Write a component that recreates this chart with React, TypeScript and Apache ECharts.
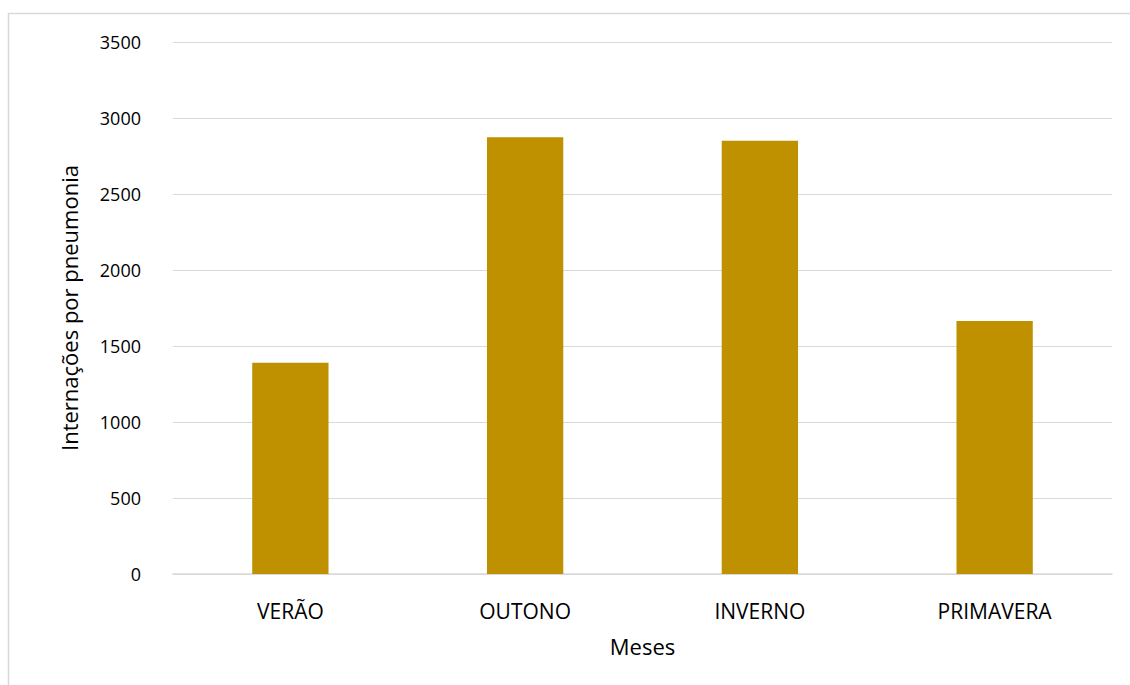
import React, { useEffect, useRef } from "react";
import * as echarts from "echarts";

const categories = ["VERÃO", "OUTONO", "INVERNO", "PRIMAVERA"];
const values = [1390, 2873, 2851, 1664];
const yTicks = [0, 500, 1000, 1500, 2000, 2500, 3000, 3500];

export default function App() {
  const ref = useRef<HTMLDivElement>(null);
  useEffect(() => {
    if (!ref.current) return;
    const chart = echarts.init(ref.current, null, { renderer: "svg" });
    const font = "'Open Sans', sans-serif";
    chart.setOption({
      animation: false,
      backgroundColor: "#ffffff",
      textStyle: { fontFamily: font },
      graphic: [
        {
          type: "rect",
          shape: { x: 8.5, y: 13.5, width: 1200, height: 800 },
          style: { fill: "none", stroke: "#d9d9d9", lineWidth: 1.5 },
          silent: true,
        },
      ],
      grid: { left: 173, right: 18, top: 42, bottom: 111, containLabel: false },
      xAxis: {
        type: "category",
        data: categories,
        name: "Meses",
        nameLocation: "middle",
        nameGap: 61,
        nameTextStyle: { fontSize: 22, color: "#000", fontFamily: font },
        axisLine: { lineStyle: { color: "#d9d9d9", width: 1.5 } },
        axisTick: { show: false },
        axisLabel: { fontSize: 21, color: "#000", margin: 26, fontFamily: font },
      },
      yAxis: {
        type: "value",
        min: yTicks[0],
        max: yTicks[yTicks.length - 1],
        interval: 500,
        name: "Internações por pneumonia",
        nameLocation: "middle",
        nameGap: 93,
        nameTextStyle: { fontSize: 22, color: "#000", fontFamily: font },
        axisLine: { show: false },
        axisTick: { show: false },
        axisLabel: {
          fontSize: 18,
          color: "#000",
          margin: 32,
          fontFamily: font,
          formatter: (v: number) => String(v),
        },
        splitLine: { lineStyle: { color: "#d9d9d9", width: 1 } },
      },
      series: [
        {
          type: "bar",
          data: values,
          barWidth: "32.5%",
          itemStyle: { color: "#BF9000" },
        },
      ],
    });
    return () => chart.dispose();
  }, []);
  return (
    <div
      ref={ref}
      style={{ position: "absolute", left: 0, top: 0, width: 1130, height: 685 }}
    />
  );
}
